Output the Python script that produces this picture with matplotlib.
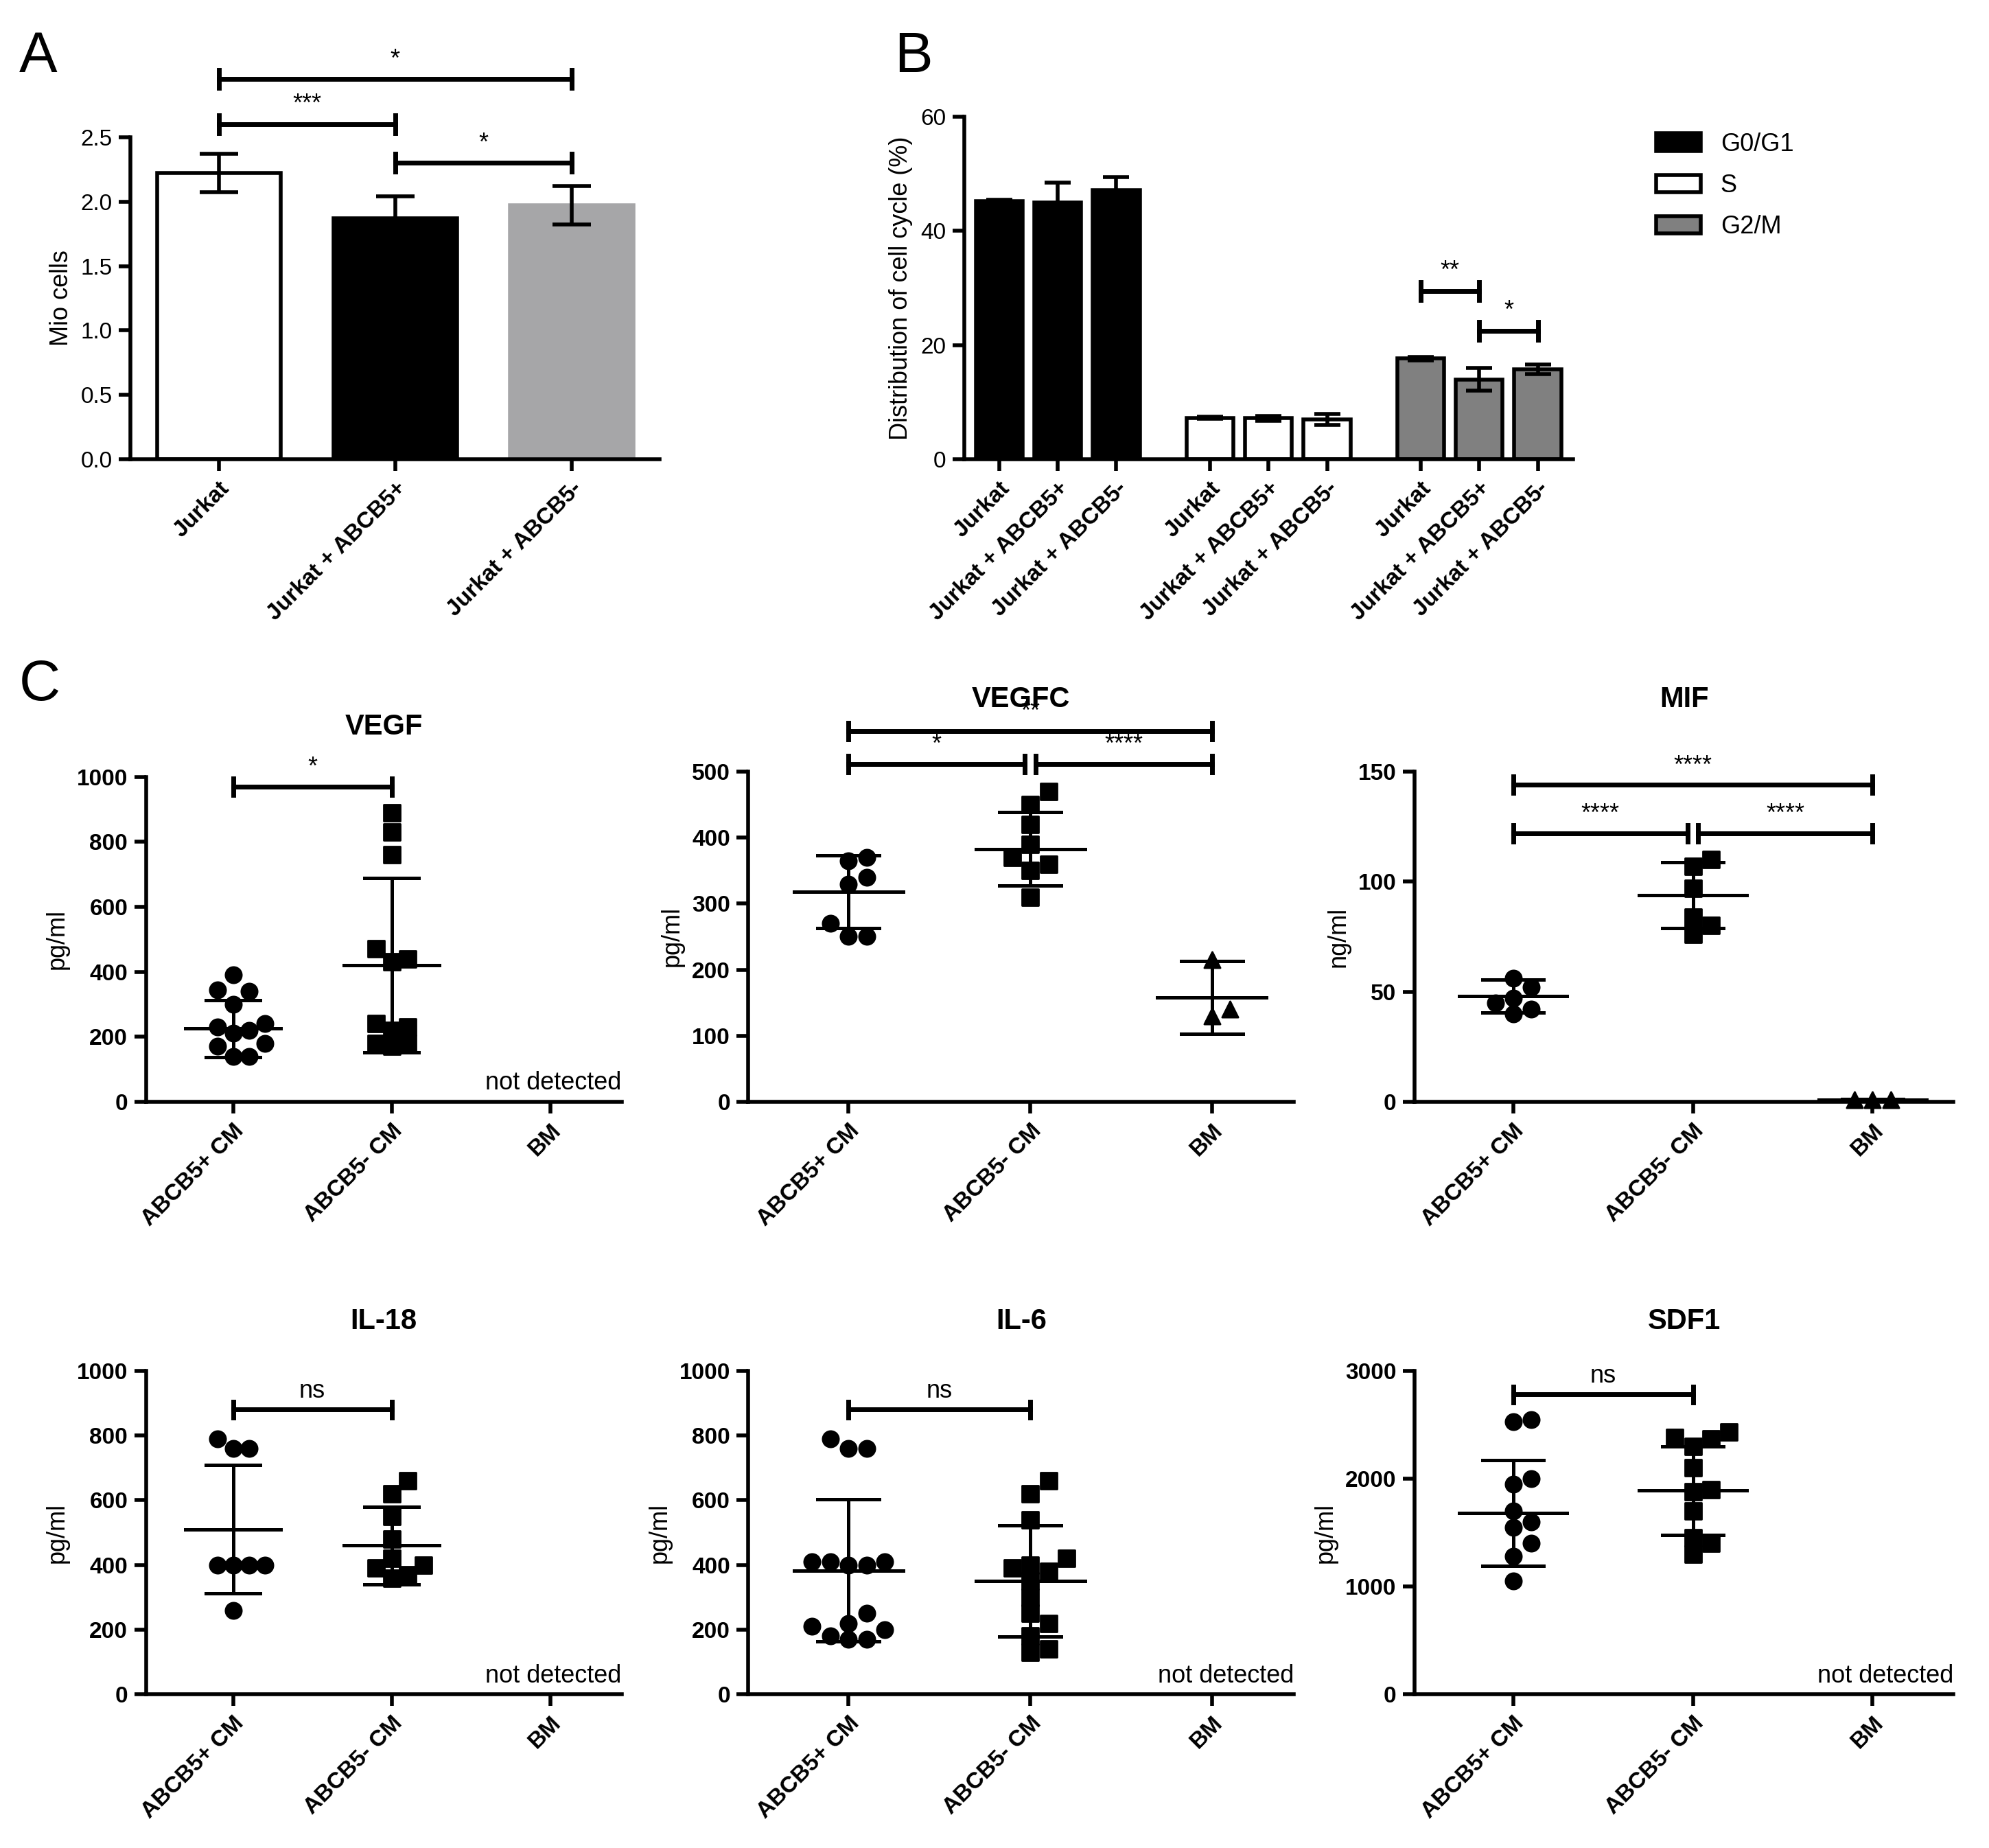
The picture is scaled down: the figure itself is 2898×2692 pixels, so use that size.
import numpy as np
import matplotlib
matplotlib.use("Agg")
import matplotlib.pyplot as plt

plt.rcParams["font.family"] = "Liberation Sans"
plt.rcParams["font.weight"] = "bold"

W, H = 1568.0, 1456.0

# ---- panel A
a_labels = ["Jurkat", "Jurkat + ABCB5+", "Jurkat + ABCB5-"]
a_means = [2.22, 1.87, 1.97]
a_err = [0.15, 0.17, 0.15]

# ---- panel B
b_labels = ["Jurkat", "Jurkat + ABCB5+", "Jurkat + ABCB5-"]
b_phases = ["G0/G1", "S", "G2/M"]
b_means = [[45.2, 45.0, 47.2], [7.3, 7.2, 7.0], [17.7, 14.0, 15.8]]
b_err = [[0.3, 3.5, 2.2], [0.2, 0.4, 1.0], [0.3, 2.0, 0.8]]

# ---- panel C
c_groups = ["ABCB5+ CM", "ABCB5- CM", "BM"]
vegf_pos = [390, 340, 345, 300, 240, 230, 220, 210, 180, 140, 140, 170]
vegf_neg = [890, 830, 760, 470, 440, 430, 240, 230, 220, 180, 180, 170]
vegfc_pos = [370, 365, 340, 330, 270, 250, 250]
vegfc_neg = [470, 450, 420, 390, 370, 360, 350, 310]
vegfc_bm = [215, 140, 130]
mif_pos = [56, 52, 47, 45, 42, 40]
mif_neg = [110, 107, 97, 84, 80, 76]
mif_bm = [1, 1, 1]
il18_pos = [790, 760, 760, 400, 400, 400, 400, 260]
il18_neg = [660, 620, 550, 480, 420, 400, 390, 370, 360]
il6_pos = [790, 760, 760, 410, 410, 410, 400, 400, 250, 220, 210, 200, 180, 170, 170]
il6_neg = [660, 620, 540, 420, 400, 390, 380, 350, 300, 250, 220, 180, 140, 130]
sdf1_pos = [2550, 2530, 2000, 1950, 1700, 1600, 1550, 1400, 1280, 1050]
sdf1_neg = [2430, 2380, 2370, 2300, 2100, 1900, 1880, 1700, 1450, 1400, 1300]

# mean and SD
panels = [
    dict(title="VEGF", ylab="pg/ml", ymax=1000, step=200, pad=22,
         data=[vegf_pos, vegf_neg, None], mean=[225, 420, None], sd=[88, 268, None],
         nd=True, brackets=[(0, 1, 970, "*")], box=(115, 612, 490, 868)),
    dict(title="VEGFC", ylab="pg/ml", ymax=500, step=100, pad=34,
         data=[vegfc_pos, vegfc_neg, vegfc_bm], mean=[318, 383, 158], sd=[55, 56, 55],
         nd=False, brackets=[(0, 0.97, 512, "*"), (1.03, 2, 512, "****"), (0, 2, 562, "**")],
         box=(590, 608, 1020, 868)),
    dict(title="MIF", ylab="ng/ml", ymax=150, step=50, pad=34,
         data=[mif_pos, mif_neg, mif_bm], mean=[48, 94, 1], sd=[7.5, 15, 0.3],
         nd=False, brackets=[(0, 0.97, 122, "****"), (1.03, 2, 122, "****"), (0, 2, 144, "****")],
         box=(1115, 608, 1540, 868)),
    dict(title="IL-18", ylab="pg/ml", ymax=1000, step=200, pad=22,
         data=[il18_pos, il18_neg, None], mean=[510, 460, None], sd=[198, 120, None],
         nd=True, brackets=[(0, 1, 880, "ns")], box=(115, 1080, 490, 1335)),
    dict(title="IL-6", ylab="pg/ml", ymax=1000, step=200, pad=22,
         data=[il6_pos, il6_neg, None], mean=[383, 350, None], sd=[220, 172, None],
         nd=True, brackets=[(0, 1, 880, "ns")], box=(590, 1080, 1020, 1335)),
    dict(title="SDF1", ylab="pg/ml", ymax=3000, step=1000, pad=22,
         data=[sdf1_pos, sdf1_neg, None], mean=[1680, 1890, None], sd=[490, 410, None],
         nd=True, brackets=[(0, 1, 2780, "ns")], box=(1115, 1080, 1540, 1335)),
]
markers = ["o", "s", "^"]


def make_ax(x0, y0, x1, y1):
    return fig.add_axes([x0 / W, 1 - y1 / H, (x1 - x0) / W, (y1 - y0) / H])


def style(ax):
    for s in ["top", "right"]:
        ax.spines[s].set_visible(False)
    for s in ["left", "bottom"]:
        ax.spines[s].set_linewidth(2)
    ax.tick_params(width=2, length=6, labelsize=12)


def bracket(ax, x0, x1, y, txt, h, fs=13):
    ax.plot([x0, x1], [y, y], color="black", lw=2.5, clip_on=False)
    for x in (x0, x1):
        ax.plot([x, x], [y - h, y + h], color="black", lw=2.5, clip_on=False)
    ax.text((x0 + x1) / 2, y + h * 0.8, txt, ha="center", va="bottom",
            fontsize=fs, fontweight="normal")


def swarm(vals, span):
    vals = np.asarray(vals, float)
    order = np.argsort(vals)
    off = np.zeros(len(vals))
    thr = span * 0.045
    placed = []
    for i in order:
        cands = [0]
        for j in range(1, 8):
            cands += [0.1 * j, -0.1 * j]
        for c in cands:
            ok = all(abs(vals[i] - vals[p]) > thr or abs(c - off[p]) > 0.09 for p in placed)
            if ok:
                off[i] = c
                break
        placed.append(i)
    return off


fig = plt.figure(figsize=(14.49, 13.46), dpi=200)

# ---- A
ax = make_ax(103, 108, 520, 362)
style(ax)
xa = np.arange(3)
ax.bar(xa, a_means, width=0.7, color=["white", "black", "#a6a6a8"],
       edgecolor=["black", "black", "#a6a6a8"], linewidth=2,
       yerr=a_err, capsize=10, error_kw=dict(lw=2, capthick=2))
ax.set_ylim(0, 2.5)
ax.set_yticks(np.arange(0, 2.51, 0.5))
ax.set_yticklabels([f"{v:.1f}" for v in np.arange(0, 2.51, 0.5)], fontweight="normal")
ax.set_xlim(-0.5, 2.5)
ax.set_xticks(xa)
ax.set_xticklabels(a_labels, rotation=45, ha="right", rotation_mode="anchor", fontsize=12)
ax.set_ylabel("Mio cells", fontsize=13, fontweight="normal")
bracket(ax, 0, 1, 2.6, "***", 0.07)
bracket(ax, 1, 2, 2.3, "*", 0.07)
bracket(ax, 0, 2, 2.95, "*", 0.07)
fig.text(15 / W, 1 - 45 / H, "A", fontsize=30, fontweight="normal", va="center")

# ---- B
ax = make_ax(760, 92, 1240, 362)
style(ax)
cols = ["black", "white", "#808080"]
xs_all = []
for g in range(3):
    xs = g * 3.6 + np.arange(3) * 1.0
    xs_all += list(xs)
    ax.bar(xs, b_means[g], width=0.8, color=cols[g], edgecolor="black", linewidth=2,
           yerr=b_err[g], capsize=7, error_kw=dict(lw=2, capthick=2), label=b_phases[g])
ax.set_xlim(-0.6, xs_all[-1] + 0.6)
ax.set_ylim(0, 60)
ax.set_yticks([0, 20, 40, 60])
ax.set_yticklabels(["0", "20", "40", "60"], fontweight="normal")
ax.set_xticks(xs_all)
ax.set_xticklabels(b_labels * 3, rotation=45, ha="right", rotation_mode="anchor", fontsize=12)
ax.set_ylabel("Distribution of cell cycle (%)", fontsize=13, fontweight="normal")
bracket(ax, xs_all[6], xs_all[7], 29.5, "**", 1.6)
bracket(ax, xs_all[7], xs_all[8], 22.5, "*", 1.6)
leg = ax.legend(loc="upper left", bbox_to_anchor=(1.1, 1.02), frameon=False,
                fontsize=13, handlelength=1.8, labelspacing=0.7)
for t in leg.get_texts():
    t.set_fontweight("normal")
fig.text(705 / W, 1 - 45 / H, "B", fontsize=30, fontweight="normal", va="center")

fig.text(15 / W, 1 - 540 / H, "C", fontsize=30, fontweight="normal", va="center")

# ---- C
for p in panels:
    ax = make_ax(*p["box"])
    style(ax)
    ymax = p["ymax"]
    for g in range(3):
        d = p["data"][g]
        if d is None:
            continue
        off = swarm(d, ymax)
        ax.scatter(g + off, d, marker=markers[g], s=70, color="black", zorder=3, clip_on=False)
        m, s = p["mean"][g], p["sd"][g]
        ax.plot([g - 0.3, g + 0.3], [m, m], color="black", lw=1.8)
        ax.plot([g, g], [m - s, m + s], color="black", lw=1.8)
        for y in (m - s, m + s):
            ax.plot([g - 0.17, g + 0.17], [y, y], color="black", lw=1.8)
    ax.set_xlim(-0.55, 2.45)
    ax.set_ylim(0, ymax)
    ax.set_yticks(np.arange(0, ymax + 1, p["step"]))
    ax.set_yticklabels([str(int(v)) for v in np.arange(0, ymax + 1, p["step"])])
    ax.set_xticks([0, 1, 2])
    ax.set_xticklabels(c_groups, rotation=45, ha="right", rotation_mode="anchor", fontsize=12)
    ax.set_ylabel(p["ylab"], fontsize=13)
    ax.set_title(p["title"], fontsize=15, fontweight="bold", pad=p["pad"])
    if p["nd"]:
        ax.text(2.45, ymax * 0.02, "not detected", ha="right", va="bottom",
                fontsize=13, fontweight="normal")
    for (x0, x1, y, txt) in p["brackets"]:
        bracket(ax, x0, x1, y, txt, ymax * 0.025)

fig.savefig("out.png", dpi=200)
